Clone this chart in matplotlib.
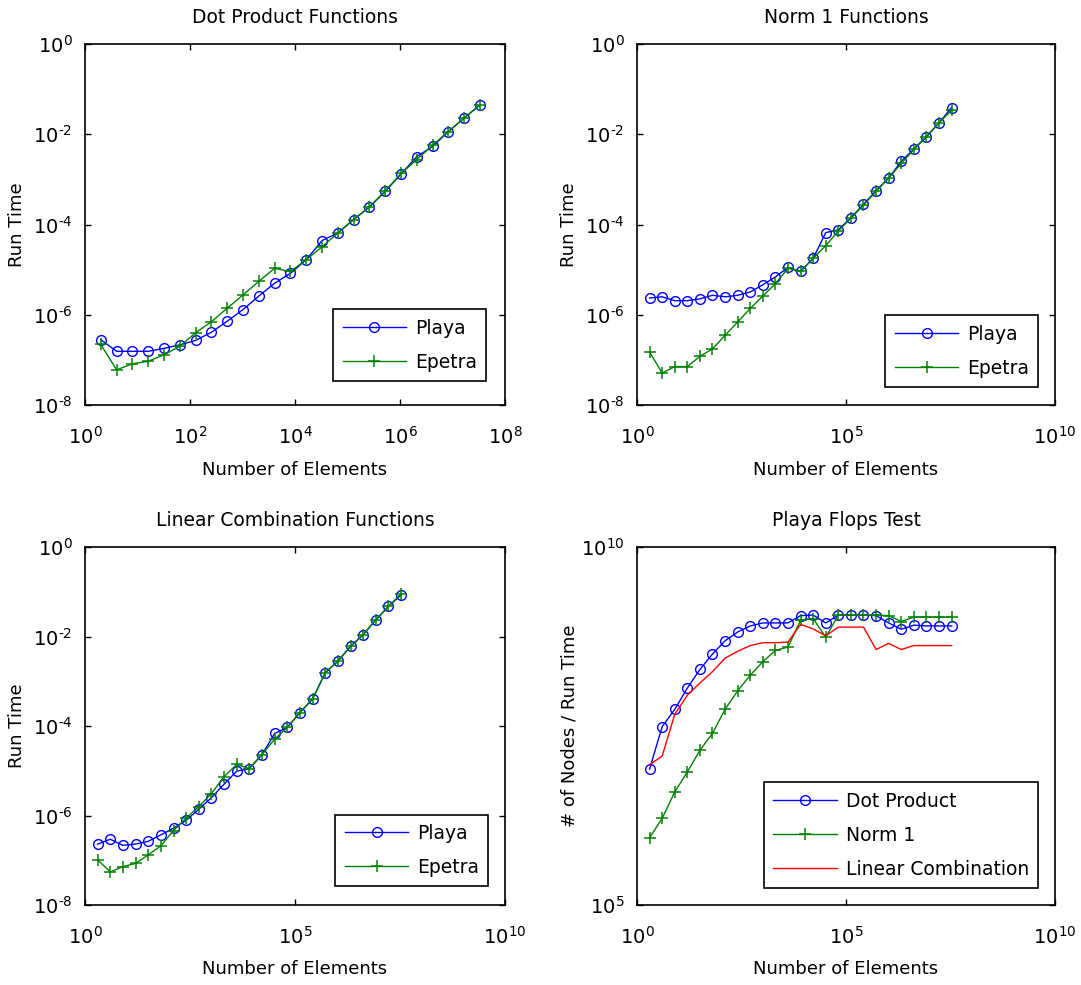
import matplotlib
matplotlib.use('Agg')
import matplotlib.pyplot as plt
from matplotlib.ticker import FixedLocator, NullLocator, FixedFormatter

plt.rcParams['font.family'] = ['DejaVu Sans']
plt.rcParams['mathtext.default'] = 'regular'

# ---------------- data ----------------
n_elements = [2, 4, 8, 16, 32, 64, 128, 256, 512, 1024, 2048, 4096, 8192,
              16384, 32768, 65536, 131072, 262144, 524288, 1048576,
              2097152, 4194304, 8388608, 16777216, 33554432]

dot_playa = [2.8e-7, 1.55e-7, 1.55e-7, 1.55e-7, 1.8e-7, 2.15e-7, 2.7e-7, 4.1e-7,
             7.2e-7, 1.3e-6, 2.6e-6, 5.0e-6, 8.3e-6, 1.66e-5, 4.4e-5, 6.5e-5,
             1.29e-4, 2.45e-4, 5.4e-4, 1.32e-3, 3.2e-3, 5.4e-3, 1.15e-2, 2.3e-2, 4.5e-2]
dot_epetra = [2.2e-7, 6.0e-8, 8.2e-8, 9.3e-8, 1.3e-7, 2.0e-7, 4.0e-7, 7.0e-7,
              1.4e-6, 2.75e-6, 5.5e-6, 1.07e-5, 9.1e-6, 1.66e-5, 3.2e-5, 6.5e-5,
              1.29e-4, 2.45e-4, 5.6e-4, 1.35e-3, 2.75e-3, 5.75e-3, 1.15e-2, 2.3e-2, 4.5e-2]

norm_playa = [2.35e-6, 2.5e-6, 2.05e-6, 2.05e-6, 2.25e-6, 2.7e-6, 2.5e-6, 2.7e-6,
              3.2e-6, 4.6e-6, 6.9e-6, 1.12e-5, 9.1e-6, 1.78e-5, 6.6e-5, 7.6e-5,
              1.41e-4, 2.8e-4, 5.6e-4, 1.07e-3, 2.5e-3, 4.7e-3, 8.9e-3, 1.78e-2, 3.9e-2]
norm_epetra = [1.5e-7, 5.1e-8, 7.1e-8, 7.1e-8, 1.2e-7, 1.75e-7, 3.5e-7, 6.9e-7,
               1.38e-6, 2.6e-6, 4.9e-6, 1.07e-5, 9.1e-6, 1.78e-5, 3.4e-5, 7.2e-5,
               1.38e-4, 2.7e-4, 5.4e-4, 1.07e-3, 2.25e-3, 4.6e-3, 8.7e-3, 1.78e-2, 3.4e-2]

lin_playa = [2.3e-7, 2.95e-7, 2.15e-7, 2.3e-7, 2.65e-7, 3.7e-7, 5.2e-7, 7.8e-7,
             1.38e-6, 2.5e-6, 5.0e-6, 9.8e-6, 1.12e-5, 2.3e-5, 6.8e-5, 9.3e-5,
             2.0e-4, 4.0e-4, 1.55e-3, 2.8e-3, 6.0e-3, 1.1e-2, 2.35e-2, 4.7e-2, 8.5e-2]
lin_epetra = [1.02e-7, 5.5e-8, 7.2e-8, 8.5e-8, 1.32e-7, 2.1e-7, 4.6e-7, 8.7e-7,
              1.58e-6, 3.1e-6, 7.4e-6, 1.38e-5, 1.12e-5, 2.3e-5, 5.1e-5, 9.3e-5,
              2.0e-4, 4.0e-4, 1.55e-3, 2.8e-3, 6.0e-3, 1.1e-2, 2.35e-2, 4.7e-2, 9.0e-2]

flops_dot = [7.9e6, 3.1e7, 5.4e7, 1.07e8, 1.95e8, 3.2e8, 4.9e8, 6.5e8, 7.9e8,
             8.7e8, 8.7e8, 8.7e8, 1.10e9, 1.12e9, 8.7e8, 1.12e9, 1.12e9, 1.12e9,
             1.10e9, 8.7e8, 7.1e8, 8.1e8, 7.9e8, 7.9e8, 7.9e8]
flops_norm = [8.7e5, 1.62e6, 3.8e6, 7.2e6, 1.45e7, 2.5e7, 5.4e7, 9.8e7, 1.62e8,
              2.5e8, 3.6e8, 4.0e8, 9.5e8, 1.0e9, 5.5e8, 1.12e9, 1.12e9, 1.12e9,
              1.12e9, 1.10e9, 9.1e8, 1.05e9, 1.05e9, 1.05e9, 1.05e9]
flops_lin = [9.1e6, 1.2e7, 4.6e7, 8.5e7, 1.26e8, 1.82e8, 2.8e8, 3.5e8, 4.2e8,
             4.6e8, 4.6e8, 4.7e8, 8.3e8, 7.2e8, 5.75e8, 7.6e8, 7.6e8, 7.6e8,
             3.7e8, 4.5e8, 3.7e8, 4.2e8, 4.2e8, 4.2e8, 4.2e8]

titles = ["Dot Product Functions", "Norm 1 Functions",
          "Linear Combination Functions", "Playa Flops Test"]
xlabel = "Number of Elements"
ylabels = ["Run Time", "Run Time", "Run Time", "# of Nodes / Run Time"]
legend_runtime = ["Playa", "Epetra"]
legend_flops = ["Dot Product", "Norm 1", "Linear Combination"]

x_exps_p1 = [0, 2, 4, 6, 8]
x_exps = [0, 5, 10]
y_exps_rt = [-8, -6, -4, -2, 0]
y_exps_fl = [5, 10]

# ---------------- style ----------------
BLUE = '#0000ff'
GREEN = '#008000'
RED = '#ff0000'
FS = 13
LW = 1.0

W, H = 1081, 985
fig = plt.figure(figsize=(W / 100, H / 100), dpi=100)


def pos(l, t, r, b):
    return [l / W, 1 - b / H, (r - l) / W, (b - t) / H]


def pow_label(e):
    # short hyphen for negative exponents, as in the original MATLAB export
    s = ('\u2010%d' % (-e)) if e < 0 else ('%d' % e)
    return r'$10^{' + s + '}$'


def style_axes(ax, xexps, yexps, title, ylabel):
    ax.set_xscale('log')
    ax.set_yscale('log')
    ax.set_xlim(10.0 ** xexps[0], 10.0 ** xexps[-1])
    ax.set_ylim(10.0 ** yexps[0], 10.0 ** yexps[-1])
    ax.xaxis.set_major_locator(FixedLocator([10.0 ** e for e in xexps]))
    ax.yaxis.set_major_locator(FixedLocator([10.0 ** e for e in yexps]))
    ax.xaxis.set_major_formatter(FixedFormatter([pow_label(e) for e in xexps]))
    ax.yaxis.set_major_formatter(FixedFormatter([pow_label(e) for e in yexps]))
    ax.xaxis.set_minor_locator(NullLocator())
    ax.yaxis.set_minor_locator(NullLocator())
    ax.tick_params(axis='both', which='major', direction='in', length=4.5,
                   width=1.0, top=True, right=True, labelsize=14,
                   colors='black')
    ax.tick_params(axis='x', pad=15)
    ax.tick_params(axis='y', pad=9)
    for s in ax.spines.values():
        s.set_linewidth(1.2)
        s.set_color('black')
    ax.set_title(title, fontsize=FS + 0.5, pad=15)
    ax.set_xlabel(xlabel, fontsize=FS)
    ax.set_ylabel(ylabel, fontsize=FS)
    ax.xaxis.set_label_coords(0.5, -0.155)
    ax.yaxis.set_label_coords(-0.14, 0.5)


def add_legend(ax, anchor):
    leg = ax.legend(loc='lower right', bbox_to_anchor=anchor, borderaxespad=0,
                    fontsize=FS + 0.5, handlelength=3.4, handletextpad=0.45,
                    borderpad=0.5, labelspacing=0.8, numpoints=1,
                    fancybox=False, framealpha=1, edgecolor='black')
    leg.get_frame().set_linewidth(1.2)


runtime_panels = [
    (pos(85, 44, 505, 405), dot_playa, dot_epetra, x_exps_p1, (0.955, 0.066)),
    (pos(637, 44, 1055, 405), norm_playa, norm_epetra, x_exps, (0.96, 0.05)),
    (pos(85, 547, 505, 905), lin_playa, lin_epetra, x_exps, (0.96, 0.052)),
]

for i, (p, playa, epetra, xe, anchor) in enumerate(runtime_panels):
    ax = fig.add_axes(p)
    ax.plot(n_elements, playa, color=BLUE, lw=LW, marker='o', ms=7,
            mfc='none', mec=BLUE, mew=1.0, label=legend_runtime[0])
    ax.plot(n_elements, epetra, color=GREEN, lw=LW, marker='+', ms=8.5,
            mec=GREEN, mew=1.1, label=legend_runtime[1])
    style_axes(ax, xe, y_exps_rt, titles[i], ylabels[i])
    add_legend(ax, anchor)

ax = fig.add_axes(pos(637, 547, 1055, 905))
ax.plot(n_elements, flops_dot, color=BLUE, lw=LW, marker='o', ms=7,
        mfc='none', mec=BLUE, mew=1.0, label=legend_flops[0])
ax.plot(n_elements, flops_norm, color=GREEN, lw=LW, marker='+', ms=8.5,
        mec=GREEN, mew=1.1, label=legend_flops[1])
ax.plot(n_elements, flops_lin, color=RED, lw=LW, label=legend_flops[2])
style_axes(ax, x_exps, y_exps_fl, titles[3], ylabels[3])
add_legend(ax, (0.96, 0.047))

fig.savefig('out.png', dpi=100, facecolor='white')
